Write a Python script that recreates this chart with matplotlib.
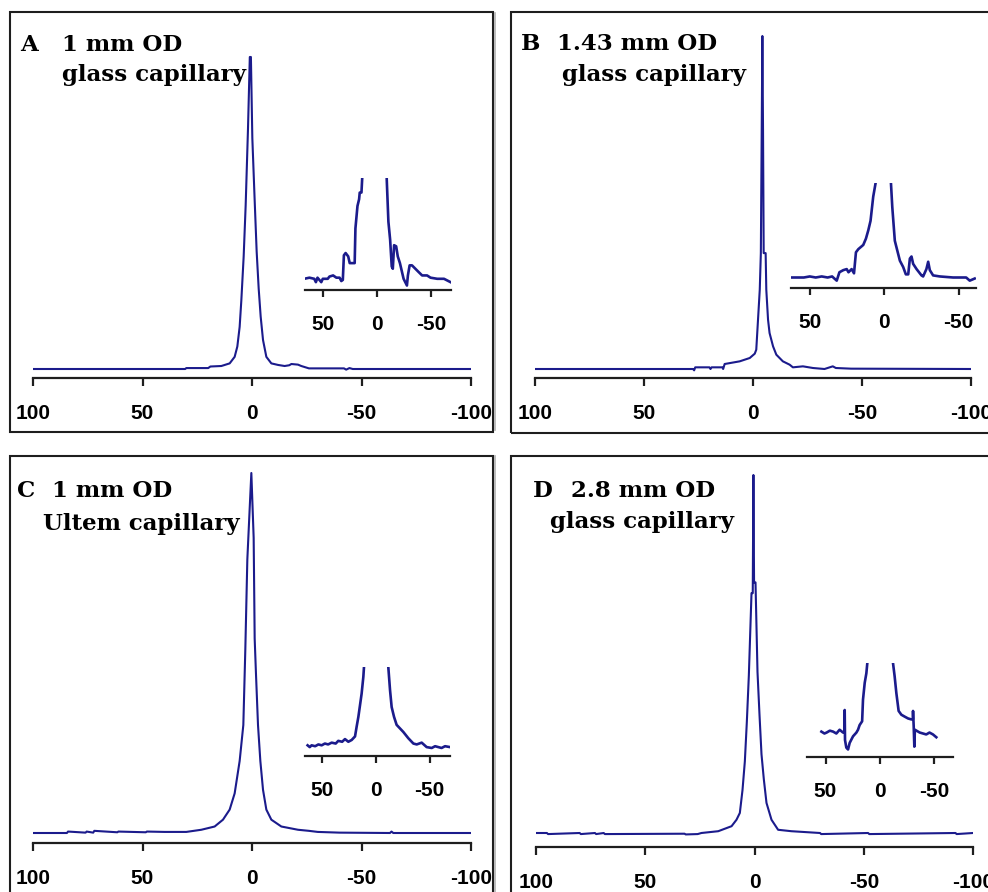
import matplotlib
matplotlib.use("Agg")
import matplotlib.pyplot as plt
from matplotlib.patches import Rectangle
from matplotlib.lines import Line2D

plt.rcParams["axes.unicode_minus"] = False

# ---- data (chemical shift in ppm, intensity normalised to the main peak) ----
main_ticks = [100, 50, 0, -50, -100]
main_tick_labels = ["100", "50", "0", "-50", "-100"]
inset_ticks = [50, 0, -50]
inset_tick_labels = ["50", "0", "-50"]

panel_letters = ["A", "B", "C", "D"]
panel_line1 = ["1 mm OD", "1.43 mm OD", "1 mm OD", "2.8 mm OD"]
panel_line2 = ["glass capillary", "glass capillary", "Ultem capillary", "glass capillary"]

ppm_a = [100, 30.5, 30, 20, 19, 14, 10.2, 7.92, 6.7, 5.64, 4.87, 3.81, 2.89, 1.83,
         1.0, 0.5, -0.15, -1.22, -2.13, -3.05, -3.96, -5.03, -6.55, -8.83, -11.9,
         -14.9, -17, -18, -21, -22.5, -26, -42, -43, -44.5, -46, -100]
int_a = [0, 0, 0.003, 0.003, 0.008, 0.0096, 0.018, 0.039, 0.072, 0.135, 0.22, 0.36, 0.525, 0.77,
         1.0, 1.0, 0.74, 0.54, 0.376, 0.258, 0.168, 0.093, 0.039, 0.018, 0.013,
         0.0096, 0.012, 0.016, 0.014, 0.0096, 0.002, 0.002, -0.002, 0.003, 0, 0]

ppm_b = [100, 27.5, 27, 26.5, 20, 19.5, 19, 14, 13.7, 13, 6.1, 1.5, -0.8, -1.5,
         -2.3, -3.1, -3.6, -4.0, -4.3, -4.6, -4.9, -5.8, -6.1, -6.9, -7.6, -9.2,
         -10.7, -13.7, -16.8, -18.3, -22.9, -27.5, -32.8, -36.6, -38, -45, -100]
int_b = [0, 0, -0.004, 0.005, 0.005, 0.0, 0.005, 0.005, 0.0, 0.015, 0.023, 0.033, 0.046, 0.058,
         0.148, 0.238, 0.348, 0.718, 1.0, 0.718, 0.348, 0.348, 0.238, 0.148, 0.108, 0.068,
         0.043, 0.023, 0.013, 0.005, 0.008, 0.003, 0.0, 0.008, 0.003, 0.001, 0]

ppm_c = [100, 84.5, 84, 76, 75.5, 72.5, 72, 61.5, 61, 48.5, 48, 40, 30, 23.15, 17.06,
         13.25, 10.2, 7.92, 5.64, 3.96, 3.05, 2.13, 1.07, 0.3, -0.76, -1.22, -1.83,
         -2.74, -3.81, -5.03, -6.55, -8.83, -13.4, -21, -26, -30, -40, -63, -63.7, -64.5, -100]
int_c = [0, 0, 0.004, 0.001, 0.004, 0.001, 0.006, 0.002, 0.004, 0.002, 0.004, 0.003, 0.003, 0.009, 0.018,
         0.037, 0.065, 0.11, 0.2, 0.3, 0.51, 0.76, 0.9, 1.0, 0.82, 0.54, 0.44,
         0.30, 0.20, 0.12, 0.065, 0.037, 0.018, 0.009, 0.006, 0.003, 0.001, 0.0, 0.004, 0.0, 0]

ppm_d = [100, 95, 94.5, 80, 79.5, 73, 72.5, 69, 68.5, 32, 31.5, 26, 24.3, 16.6, 10.5,
         8.24, 6.71, 5.49, 4.42, 3.51, 2.59, 1.37, 0.8, 0.5, 0.2, -0.46, -1.37, -2.29,
         -3.2, -4.27, -5.49, -7.78, -10.8, -16.9, -30, -30.5, -52, -52.5, -92, -92.5, -100]
int_d = [0, 0, -0.003, 0, -0.003, 0, -0.003, 0, -0.003, -0.002, -0.004, -0.003, 0.0, 0.005, 0.019,
         0.037, 0.056, 0.12, 0.20, 0.31, 0.44, 0.67, 0.67, 1.0, 0.70, 0.70, 0.45, 0.33,
         0.22, 0.15, 0.084, 0.037, 0.009, 0.005, 0, -0.003, 0, -0.003, 0, -0.003, 0]

# insets: vertically magnified spectra, central peak runs off the top
inset_ppm_a = [67.8, 63, 58.5, 57, 55.5, 52, 50.6, 46, 44.4, 41, 38, 35, 33.4, 32, 31, 29.4,
               27, 25.6, 21, 20.3, 18.4, 16.9, 16.3, 14.7, 14, 0, -8.75, -10.3, -11.9,
               -13.4, -14.4, -15.6, -17.5, -19, -21, -24.4, -27.5, -28.4, -30, -32.2,
               -35.3, -38.4, -41.6, -46.2, -49.4, -55.6, -61.9, -68]
inset_int_a = [0.10, 0.11, 0.10, 0.07, 0.11, 0.07, 0.10, 0.10, 0.12, 0.13, 0.11, 0.11, 0.08, 0.09, 0.31, 0.33,
               0.30, 0.24, 0.24, 0.55, 0.75, 0.81, 0.87, 0.87, 1.0, 40, 0.99, 0.61, 0.45,
               0.21, 0.19, 0.40, 0.39, 0.30, 0.24, 0.10, 0.04, 0.13, 0.22, 0.22,
               0.19, 0.16, 0.13, 0.13, 0.11, 0.10, 0.10, 0.07]

inset_ppm_b = [62, 58, 54, 50, 46, 42, 38, 35, 31.9, 30.1, 27.5, 25.2, 24, 21.9, 20.3,
               19, 17.4, 14.1, 12.3, 10.7, 9.2, 7.4, 5.8, 0, -4.5, -5.4, -7.1, -8.7,
               -10.5, -12.7, -14.5, -16.1, -17.2, -18.3, -19.4, -21.7, -25, -26.1,
               -28.3, -29.5, -30.6, -32.8, -37.3, -46.2, -55, -57.4, -60.7]
inset_int_b = [0.10, 0.10, 0.10, 0.11, 0.10, 0.11, 0.10, 0.11, 0.07, 0.15, 0.17, 0.18, 0.15, 0.18, 0.14,
               0.34, 0.37, 0.41, 0.47, 0.55, 0.64, 0.87, 1.0, 40, 1.0, 0.77, 0.45, 0.36,
               0.26, 0.20, 0.13, 0.13, 0.28, 0.30, 0.23, 0.18, 0.12, 0.11,
               0.18, 0.25, 0.17, 0.12, 0.11, 0.10, 0.10, 0.07, 0.09]

inset_ppm_c = [63, 61, 59.3, 56, 53, 50, 47, 44, 40.7, 37, 34.6, 31, 28.4, 25.3, 22.2, 19.1,
               17.6, 16, 14.5, 13, 11.4, 10.8, 0, -11.7, -13.3, -14.8, -17, -19.4, -22.5,
               -25.6, -30.2, -34.9, -38, -42.6, -47.2, -51.9, -55, -58, -61, -64.2, -68.8]
inset_int_c = [0.12, 0.10, 0.12, 0.11, 0.13, 0.12, 0.14, 0.13, 0.15, 0.14, 0.17, 0.16, 0.19, 0.16, 0.18, 0.22,
               0.33, 0.44, 0.57, 0.70, 0.89, 1.0, 40, 1.0, 0.74, 0.55, 0.44, 0.35, 0.31,
               0.27, 0.20, 0.14, 0.13, 0.15, 0.10, 0.09, 0.11, 0.10, 0.09, 0.11, 0.10]

inset_ppm_d = [53.8, 51, 49, 46, 43, 40, 37, 33.8, 32.5, 32.3, 32.0, 30.8, 29.2, 27.7, 24.6,
               21.5, 20, 18.5, 16.2, 15.4, 13.8, 12.3, 11.4, 0, -12.3, -13.8, -15.4,
               -17.5, -20, -23, -26.2, -29.2, -30.6, -30.8, -31.4, -32.0, -32.5, -37,
               -40, -43, -46, -49.2, -52.3]
inset_int_d = [0.27, 0.25, 0.26, 0.28, 0.27, 0.25, 0.29, 0.26, 0.26, 0.50, 0.18, 0.10, 0.08, 0.15, 0.22,
               0.26, 0.29, 0.34, 0.38, 0.61, 0.79, 0.89, 1.0, 40, 1.0, 0.86, 0.68,
               0.49, 0.45, 0.43, 0.41, 0.40, 0.40, 0.49, 0.33, 0.11, 0.29, 0.26,
               0.25, 0.24, 0.26, 0.24, 0.21]

# ---- layout (pixel coordinates of the reference) ----
W, H = 988, 892
LINE = "#1b1b8c"
INK = "#1e1e1e"

fig = plt.figure(figsize=(W / 100, H / 100), dpi=100)
fig.patch.set_facecolor("white")


def px_axes(left, right, bottom, top):
    ax = fig.add_axes([left / W, 1 - bottom / H, (right - left) / W, (bottom - top) / H])
    ax.patch.set_alpha(0)
    for s in ("left", "right", "top"):
        ax.spines[s].set_visible(False)
    ax.spines["bottom"].set_linewidth(1.6)
    ax.spines["bottom"].set_color(INK)
    ax.set_yticks([])
    return ax


def style_xaxis(ax, ticks, labels, length, pad):
    ax.set_xticks(ticks)
    ax.set_xticklabels(labels, fontfamily="Liberation Sans", fontweight="bold", fontsize=15)
    ax.tick_params(axis="x", direction="out", length=length, width=1.6, color=INK,
                   pad=pad, labelcolor="black")


# frames
for (x0, y0, x1, y1) in [(10, 12, 493, 432), (511, 12, 1005, 433),
                         (10, 456, 493, 905), (511, 456, 1005, 905)]:
    fig.patches.append(Rectangle((x0 / W, 1 - y1 / H), (x1 - x0) / W, (y1 - y0) / H,
                                 transform=fig.transFigure, fill=False,
                                 edgecolor=INK, linewidth=1.5))
for (y0, y1) in [(13, 430), (456, 892)]:
    fig.lines.append(Line2D([495 / W, 495 / W], [1 - y0 / H, 1 - y1 / H],
                            transform=fig.transFigure, color="#b0b0b0", linewidth=1.2))

# main spectra: (x at 100, x at -100, spine y, baseline y, peak y)
main_specs = [
    (ppm_a, int_a, 33, 471, 378, 369, 57),
    (ppm_b, int_b, 535, 971, 378, 369, 36),
    (ppm_c, int_c, 33, 471, 843, 833, 473),
    (ppm_d, int_d, 536, 973, 847, 833, 475),
]
for ppm, inten, xl, xr, spine, base, peak in main_specs:
    top = peak - 8
    scale = base - peak
    ax = px_axes(xl, xr, spine, top)
    ax.plot(ppm, inten, color=LINE, linewidth=1.5)
    ax.set_xlim(100, -100)
    ax.set_ylim(-(spine - base) / scale, 1 + (peak - top) / scale)
    style_xaxis(ax, main_ticks, main_tick_labels, 6, 13)

# insets: (left x, right x, ppm at left, ppm at right, axis y, clip-top y)
inset_specs = [
    (inset_ppm_a, inset_int_a, 305, 451, 67.1, -68.4, 290, 178),
    (inset_ppm_b, inset_int_b, 791, 976, 62.6, -61.6, 288, 183),
    (inset_ppm_c, inset_int_c, 305, 450, 65.4, -68.8, 756, 667),
    (inset_ppm_d, inset_int_d, 807, 953, 67.1, -67.7, 757, 663),
]
for ppm, inten, xl, xr, p_l, p_r, axis_y, top_y in inset_specs:
    ax = px_axes(xl, xr, axis_y, top_y)
    ax.plot(ppm, inten, color=LINE, linewidth=1.9)
    ax.set_xlim(p_l, p_r)
    ax.set_ylim(0, 1)
    style_xaxis(ax, inset_ticks, inset_tick_labels, 5, 13)

# panel annotations: (letter x, line1 x, line2 x, line1 baseline, line2 baseline)
text_pos = [(20, 62, 62, 51, 81), (521, 557, 562, 50, 81),
            (17, 52, 43, 497, 530), (533, 571, 550, 497, 528)]
font = dict(fontfamily="DejaVu Serif", fontweight="bold", fontsize=16.5,
            va="baseline", ha="left", color="black")
for letter, l1, l2, (xa, x1, x2, yb1, yb2) in zip(panel_letters, panel_line1, panel_line2, text_pos):
    fig.text(xa / W, 1 - yb1 / H, letter, **font)
    fig.text(x1 / W, 1 - yb1 / H, l1, **font)
    fig.text(x2 / W, 1 - yb2 / H, l2, **font)

fig.savefig("out.png", dpi=100)
